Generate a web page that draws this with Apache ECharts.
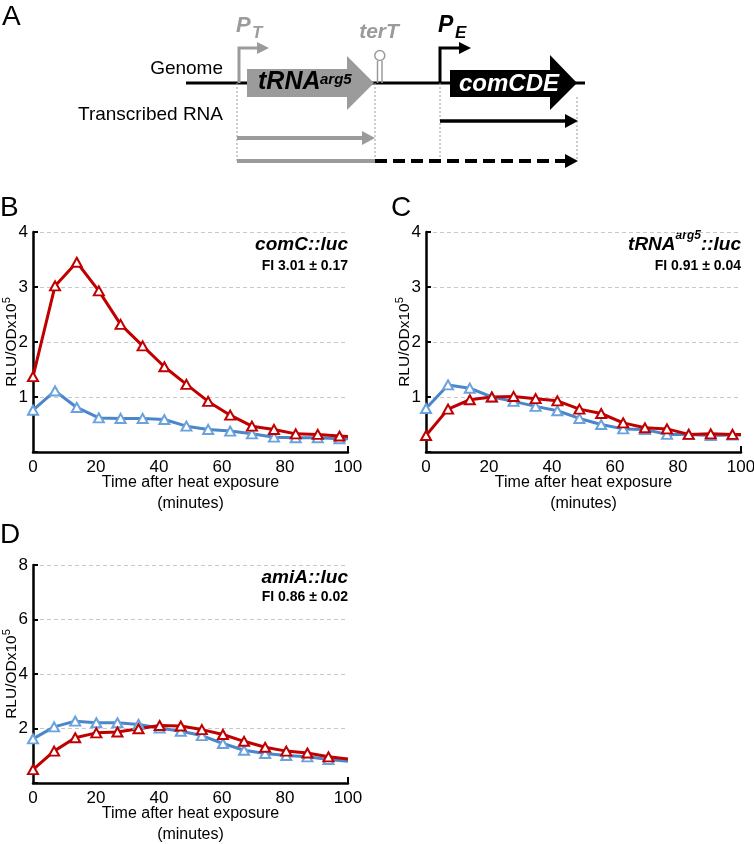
<!DOCTYPE html>
<html>
<head>
<meta charset="utf-8">
<script src="https://cdn.jsdelivr.net/npm/echarts@6/dist/echarts.min.js"></script>
<style>
html,body{margin:0;padding:0;background:#fff;}
#c{width:754px;height:844px;}
</style>
</head>
<body>
<div id="c"></div>
<script>
// ---- data ----
var timesBC = [0, 7, 13.9, 20.9, 27.8, 34.8, 41.7, 48.7, 55.6, 62.6, 69.5, 76.5, 83.4, 90.4, 97.3, 100];
var timesD  = [0, 6.7, 13.4, 20.1, 26.8, 33.5, 40.2, 46.9, 53.6, 60.3, 67, 73.7, 80.4, 87.1, 93.8, 100];
var bRed  = [1.37, 3.02, 3.45, 2.93, 2.32, 1.93, 1.55, 1.23, 0.92, 0.67, 0.47, 0.41, 0.33, 0.32, 0.29, 0.28];
var bBlue = [0.76, 1.11, 0.81, 0.62, 0.61, 0.61, 0.59, 0.47, 0.41, 0.38, 0.33, 0.27, 0.26, 0.26, 0.24, 0.24];
var cRed  = [0.30, 0.78, 0.95, 1.00, 1.01, 0.97, 0.93, 0.78, 0.70, 0.53, 0.44, 0.42, 0.32, 0.33, 0.32, 0.32];
var cBlue = [0.79, 1.22, 1.16, 1.00, 0.92, 0.83, 0.75, 0.61, 0.50, 0.42, 0.41, 0.32, 0.32, 0.30, 0.31, 0.31];
var dRed  = [0.49, 1.17, 1.66, 1.84, 1.87, 1.99, 2.11, 2.09, 1.96, 1.78, 1.53, 1.31, 1.17, 1.10, 0.96, 0.88];
var dBlue = [1.62, 2.06, 2.27, 2.21, 2.21, 2.15, 2.02, 1.90, 1.74, 1.45, 1.20, 1.08, 1.01, 0.96, 0.86, 0.80];
var xTicks = [0, 20, 40, 60, 80, 100];
var panelTitles = ['{m|comC::luc}', '{m|tRNA}{s|arg5}{m|::luc}', '{m|amiA::luc}'];
var fiTexts = ['FI 3.01 ± 0.17', 'FI 0.91 ± 0.04', 'FI 0.86 ± 0.02'];

var FONT = '"Liberation Sans", Arial, sans-serif';
var RED = '#C00000';
var BLUE = '#4A86C8';
var BLUE_M = '#6AA2DE';
var GRAY = '#9B9B9B';

function pairs(xs, ys) { return xs.map(function (x, i) { return [x, ys[i]]; }); }

function xAxisDef(gi) {
  return {
    type: 'value', gridIndex: gi, min: 0, max: 100, interval: 20,
    axisLine: { show: true, onZero: false, lineStyle: { color: '#000', width: 2.5 } },
    axisTick: { show: false },
    splitLine: { show: false },
    axisLabel: { color: '#000', fontSize: 17, fontFamily: FONT, margin: 7,
      customValues: xTicks },
    name: 'Time after heat exposure\n(minutes)',
    nameLocation: 'middle', nameGap: 20, nameMoveOverlap: false,
    nameTextStyle: { color: '#000', fontSize: 16, fontFamily: FONT, lineHeight: 21 }
  };
}
function yAxisDef(gi, max, interval) {
  return {
    type: 'value', gridIndex: gi, min: 0, max: max, interval: interval,
    axisLine: { show: true, lineStyle: { color: '#000', width: 2.5 } },
    axisTick: { show: true, inside: true, length: 5, lineStyle: { color: '#000', width: 2 } },
    splitLine: { show: true, lineStyle: { color: '#c8c8c8', type: [4, 3], width: 1 } },
    axisLabel: { color: '#000', fontSize: 17, fontFamily: FONT, margin: 5,
      formatter: function (v) { return v === 0 ? '' : String(v); } },
    name: 'RLU/ODx10{s|5}',
    nameLocation: 'middle', nameRotate: 90, nameGap: 11, nameMoveOverlap: false,
    nameTextStyle: { color: '#000', fontSize: 15.5, fontFamily: FONT,
      rich: { s: { fontSize: 11, fontFamily: FONT, color: '#000', padding: [0, 0, 10, 0] } } }
  };
}
function lineSeries(name, xi, xs, ys, color, mcolor) {
  var last = xs.length - 1;
  return {
    type: 'line', name: name, xAxisIndex: xi, yAxisIndex: xi,
    data: pairs(xs, ys),
    symbol: function (v, p) { return p.dataIndex === last ? 'none' : 'triangle'; },
    symbolSize: [10, 9],
    lineStyle: { color: color, width: 3 },
    itemStyle: { color: '#fff', borderColor: mcolor, borderWidth: 2 },
    emphasis: { disabled: true },
    animation: false,
    z: 3
  };
}

var grids = [
  { left: 33, top: 232, width: 315, height: 220, outerBoundsMode: 'none', containLabel: false },
  { left: 426, top: 232, width: 315, height: 220, outerBoundsMode: 'none', containLabel: false },
  { left: 33, top: 565, width: 315, height: 218, outerBoundsMode: 'none', containLabel: false }
];

// ---- panel A diagram ----
var diag = [];
function L(pts, color, w, dash) {
  diag.push({ type: 'polyline', shape: { points: pts },
    style: { stroke: color, lineWidth: w, fill: null, lineDash: dash || null } });
}
function P(pts, color) {
  diag.push({ type: 'polygon', shape: { points: pts }, style: { fill: color } });
}
function T(x, y, text, opts) {
  var st = Object.assign({ text: text, x: x, y: y, fontFamily: FONT, fill: '#000' }, opts);
  diag.push({ type: 'text', style: st });
}
// panel letters
T(2, 3, 'A', { fontSize: 28 });
T(0, 194, 'B', { fontSize: 28 });
T(391, 194, 'C', { fontSize: 28 });
T(0, 521, 'D', { fontSize: 28 });

// genome line
L([[186, 83], [585, 83]], '#000', 3);
// dotted guides
L([[237, 83], [237, 161]], '#9a9a9a', 1, [2, 2]);
L([[375, 83], [375, 161]], '#9a9a9a', 1, [2, 2]);
L([[440, 83], [440, 161]], '#9a9a9a', 1, [2, 2]);
L([[577, 97], [577, 161]], '#9a9a9a', 1, [2, 2]);
// P_T bent arrow
L([[239, 83], [239, 48], [258, 48]], GRAY, 3);
P([[257, 42], [269, 48], [257, 54]], GRAY);
// tRNA gene arrow
P([[247, 69], [347, 69], [347, 56], [374, 83], [347, 110], [347, 97], [247, 97]], GRAY);
// terminator hairpin
L([[377.5, 83], [377.5, 61]], GRAY, 1.5);
L([[382, 83], [382, 61]], GRAY, 1.5);
diag.push({ type: 'circle', shape: { cx: 379.8, cy: 55.5, r: 5 }, style: { stroke: GRAY, lineWidth: 1.5, fill: '#fff' } });
// P_E bent arrow
L([[440, 83], [440, 48], [460, 48]], '#000', 3);
P([[459, 42], [471, 48], [459, 54]], '#000');
// comCDE arrow
P([[450, 70], [550, 70], [550, 55], [577, 83], [550, 110], [550, 97], [450, 97]], '#000');
// transcripts
L([[440, 121], [568, 121]], '#000', 3.5);
P([[565, 114], [578, 121], [565, 128]], '#000');
L([[237, 138], [364, 138]], GRAY, 4);
P([[362, 131], [375, 138], [362, 145]], GRAY);
L([[237, 161], [375, 161]], GRAY, 4);
L([[375, 161], [566, 161]], '#000', 4, [12, 6]);
P([[565, 154], [578, 161], [565, 168]], '#000');
// labels
T(223, 69, 'Genome', { fontSize: 19, align: 'right', verticalAlign: 'middle' });
T(223, 115, 'Transcribed RNA', { fontSize: 19, align: 'right', verticalAlign: 'middle' });
T(236, 37, 'P', { fontSize: 22, fontWeight: 'bold', fontStyle: 'italic', fill: GRAY, verticalAlign: 'bottom' });
T(252, 42, 'T', { fontSize: 17, fontWeight: 'bold', fontStyle: 'italic', fill: GRAY, verticalAlign: 'bottom' });
T(379, 32, 'terT', { fontSize: 21, fontWeight: 'bold', fontStyle: 'italic', fill: GRAY, align: 'center', verticalAlign: 'middle' });
T(438, 37, 'P', { fontSize: 23, fontWeight: 'bold', fontStyle: 'italic', fill: '#000', verticalAlign: 'bottom' });
T(455, 42, 'E', { fontSize: 17, fontWeight: 'bold', fontStyle: 'italic', fill: '#000', verticalAlign: 'bottom' });
T(258, 95, 'tRNA', { fontSize: 25, fontWeight: 'bold', fontStyle: 'italic', fill: '#000', verticalAlign: 'bottom' });
T(320, 87, 'arg5', { fontSize: 15, fontWeight: 'bold', fontStyle: 'italic', fill: '#000', verticalAlign: 'bottom' });
T(459, 84, 'comCDE', { fontSize: 24, fontWeight: 'bold', fontStyle: 'italic', fill: '#fff', verticalAlign: 'middle' });

// panel annotations
var richTitle = {
  m: { fontSize: 19, fontWeight: 'bold', fontStyle: 'italic', fontFamily: FONT, color: '#000', verticalAlign: 'bottom', lineHeight: 24 },
  s: { fontSize: 12, fontWeight: 'bold', fontStyle: 'italic', fontFamily: FONT, color: '#000', verticalAlign: 'top', lineHeight: 14 }
};
var titlePos = [[348, 242], [741, 242], [348, 575]];
var fiPos = [[348, 266], [741, 266], [348, 597]];
titlePos.forEach(function (p, i) {
  diag.push({ type: 'text', style: { text: panelTitles[i], x: p[0], y: p[1], align: 'right', verticalAlign: 'middle', rich: richTitle, fontFamily: FONT } });
  T(fiPos[i][0], fiPos[i][1], fiTexts[i], { fontSize: 14, fontWeight: 'bold', align: 'right', verticalAlign: 'middle' });
});

var chart = echarts.init(document.getElementById('c'), null, { renderer: 'canvas' });
chart.setOption({
  animation: false,
  backgroundColor: '#fff',
  grid: grids,
  xAxis: [xAxisDef(0), xAxisDef(1), xAxisDef(2)],
  yAxis: [yAxisDef(0, 4, 1), yAxisDef(1, 4, 1), yAxisDef(2, 8, 2)],
  series: [
    lineSeries('Blue B', 0, timesBC, bBlue, BLUE, BLUE_M),
    lineSeries('Red B', 0, timesBC, bRed, RED, RED),
    lineSeries('Blue C', 1, timesBC, cBlue, BLUE, BLUE_M),
    lineSeries('Red C', 1, timesBC, cRed, RED, RED),
    lineSeries('Blue D', 2, timesD, dBlue, BLUE, BLUE_M),
    lineSeries('Red D', 2, timesD, dRed, RED, RED)
  ],
  graphic: diag
});

// small end tick at x = 100 on each x axis, placed through the axes' own scales
var stubs = [];
[0, 1, 2].forEach(function (i) {
  var p = chart.convertToPixel({ xAxisIndex: i, yAxisIndex: i }, [100, 0]);
  stubs.push({ type: 'line', shape: { x1: p[0], y1: p[1], x2: p[0], y2: p[1] - 6 },
    style: { stroke: '#000', lineWidth: 2 } });
});
chart.setOption({ graphic: diag.concat(stubs) });
</script>
</body>
</html>
